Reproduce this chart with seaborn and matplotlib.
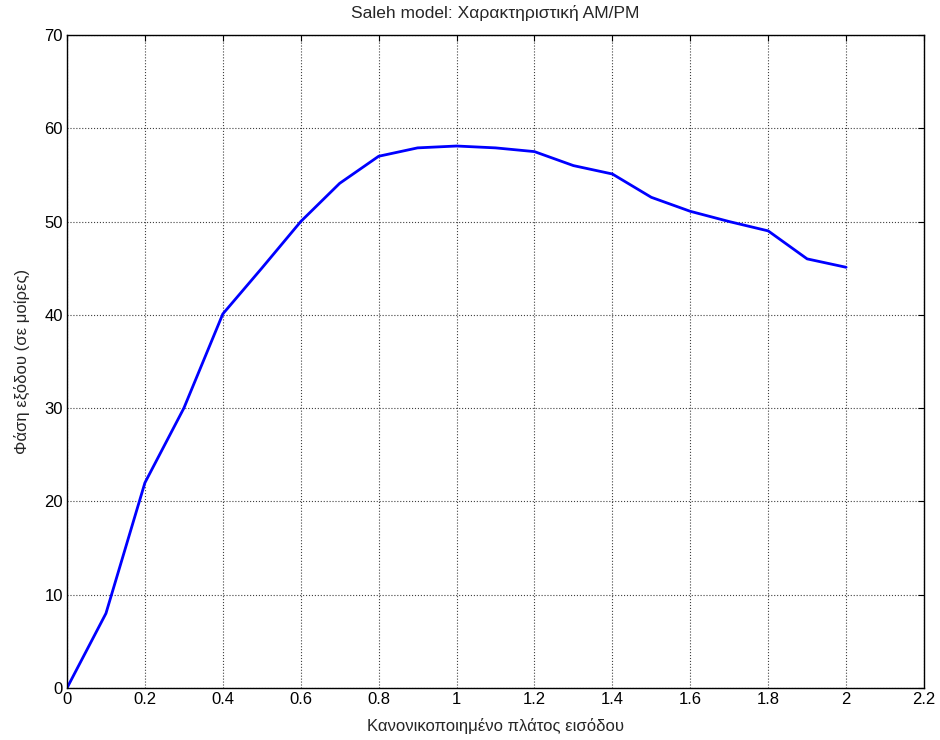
import numpy as np
import pandas as pd
import matplotlib
matplotlib.use("Agg")
import matplotlib.pyplot as plt
import seaborn as sns

amplitude = [0.0, 0.1, 0.2, 0.3, 0.4, 0.5, 0.6, 0.7, 0.8, 0.9, 1.0,
             1.1, 1.2, 1.3, 1.4, 1.5, 1.6, 1.7, 1.8, 1.9, 2.0]
phase_deg = [0.0, 8.0, 22.0, 30.0, 40.1, 45.0, 50.0, 54.1, 57.0, 57.9, 58.1,
             57.9, 57.5, 56.0, 55.1, 52.6, 51.1, 50.0, 49.0, 46.0, 45.1]
xticks = [0, 0.2, 0.4, 0.6, 0.8, 1, 1.2, 1.4, 1.6, 1.8, 2, 2.2]
xticklabels = ["0", "0.2", "0.4", "0.6", "0.8", "1", "1.2", "1.4", "1.6", "1.8", "2", "2.2"]
yticks = [0, 10, 20, 30, 40, 50, 60, 70]

df = pd.DataFrame({"x": amplitude, "y": phase_deg})

sns.set_style("white")
plt.rcParams['font.family'] = ['Liberation Sans', 'DejaVu Sans']

fig = plt.figure(figsize=(9.4, 7.4), dpi=100)
ax = fig.add_axes([67/940, 1 - 688/740, (924-67)/940, (688-35)/740])

sns.lineplot(data=df, x="x", y="y", ax=ax, color="#0000ff", linewidth=2.0)

ax.set_xlim(0, 2.2)
ax.set_ylim(0, 70)
ax.set_xticks(xticks)
ax.set_xticklabels(xticklabels)
ax.set_yticks(yticks)
ax.grid(True, color="#404040", linestyle=":", linewidth=0.8)
ax.tick_params(direction="in", length=4, width=0.8, top=True, right=True,
               labelsize=12, colors="black", pad=3)
for s in ax.spines.values():
    s.set_color("black")
    s.set_linewidth(1.0)

ax.set_title("Saleh model: Χαρακτηριστική AM/PM", fontsize=12.5, pad=12)
ax.set_xlabel("Κανονικοποιημένο πλάτος εισόδου", fontsize=12, labelpad=8)
ax.set_ylabel("Φάση εξόδου (σε μοίρες)", fontsize=12, labelpad=10)

fig.savefig("out.png", dpi=100)
